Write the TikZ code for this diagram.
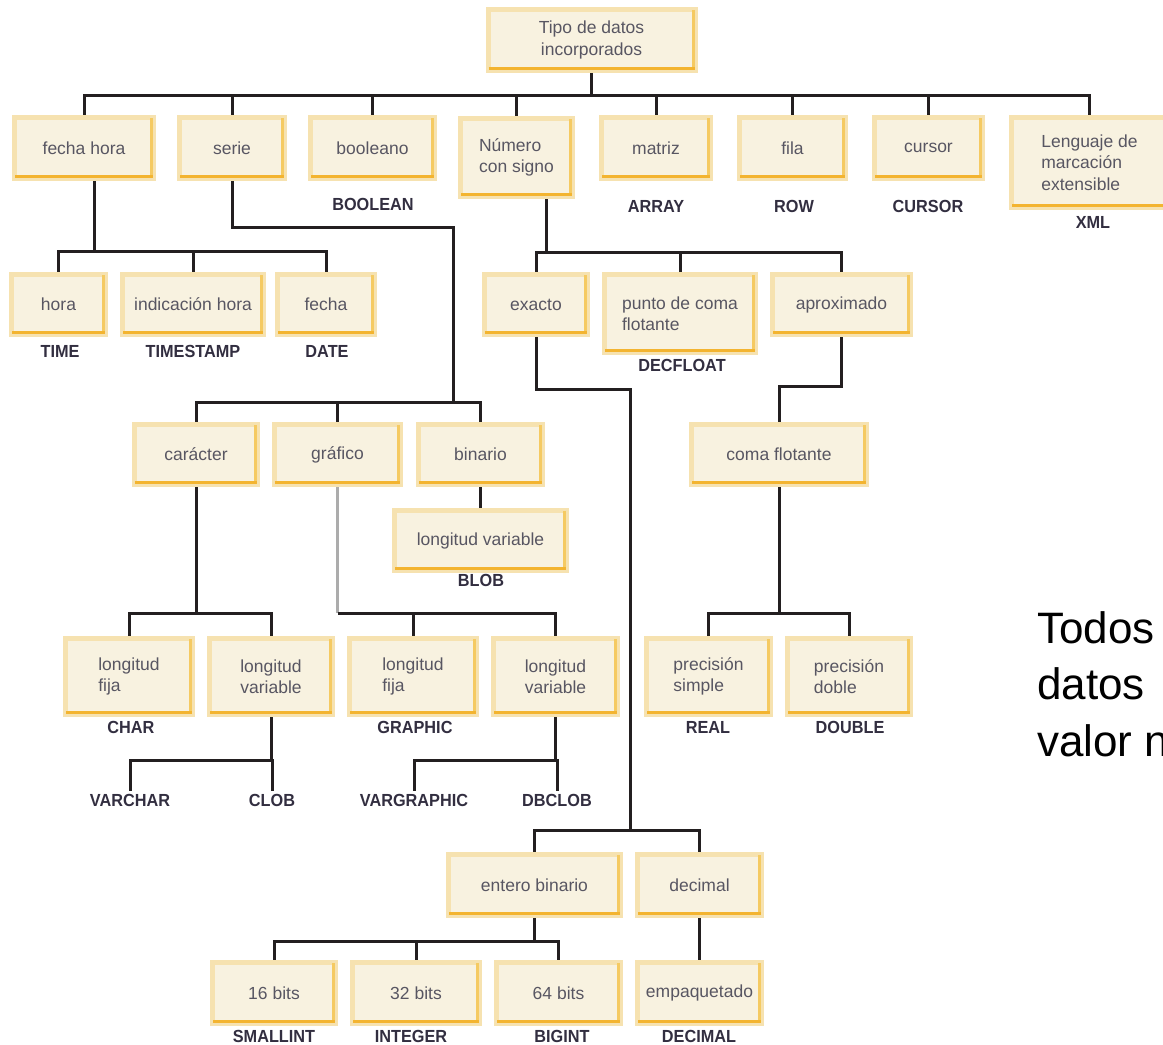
\documentclass[tikz,border=0pt]{standalone}
\usepackage{fontspec}
\setmainfont{Liberation Sans}
\newfontfamily\etiquetafont[FakeStretch=0.93]{Liberation Sans}
\usetikzlibrary{positioning}

\definecolor{fondocaja}{RGB}{248,242,224}
\definecolor{bordecaja}{RGB}{246,226,176}
\definecolor{naranja}{RGB}{243,180,48}
\definecolor{naranjaclaro}{RGB}{245,202,98}
\definecolor{textocaja}{RGB}{88,86,98}
\definecolor{textotipo}{RGB}{50,46,64}
\definecolor{linea}{RGB}{35,31,32}
\definecolor{lineagris}{RGB}{172,172,172}

\begin{document}
\begin{tikzpicture}[x=1pt,y=-1pt,
  caja/.style={draw=bordecaja,fill=fondocaja,line width=5pt,inner sep=2pt,minimum height=61pt,text=textocaja,font=\fontsize{17.5}{21.5}\selectfont},
  tipo/.style={text=textotipo,inner sep=3pt,font=\etiquetafont\bfseries\fontsize{17.5}{20}\selectfont},
  grande/.style={inner sep=0pt,font=\fontsize{44}{56}\selectfont},
  rama/.style={draw=linea,line width=3pt},
  gris/.style={draw=lineagris,line width=3pt},
  barra/.style={draw=naranja,line width=3pt},
  lado/.style={draw=naranjaclaro,line width=3pt}]

\useasboundingbox (0,0) rectangle (1163,1045);

\node[caja,minimum width=207pt,align=center] (tipos) at (591.5,40) {Tipo de datos\\incorporados};

\node[caja,minimum width=139pt] (fechahora) at (84,148) {fecha hora};
\node[caja,minimum width=105pt] (serie) at (232,148) {serie};
\node[caja,minimum width=124pt] (booleano) at (372.5,148) {booleano};
\node[caja,minimum width=112pt,minimum height=78pt,align=left] (numero) at (516.5,157.5) {Número\\con signo};
\node[caja,minimum width=109pt] (matriz) at (656,148) {matriz};
\node[caja,minimum width=106pt] (fila) at (792.5,148) {fila};
\node[caja,minimum width=108pt] (cursor) at (928.5,148) {cursor};
\node[caja,minimum width=156pt,minimum height=90pt,align=left] (xml) at (1089.5,162.5) {Lenguaje de\\marcación\\extensible};

\node[tipo] (boolean) at (373,204) {BOOLEAN};
\node[tipo] (array) at (656,206) {ARRAY};
\node[tipo] (row) at (794,206) {ROW};
\node[tipo] (cursorsql) at (928,206) {CURSOR};
\node[tipo] (xmlsql) at (1093,222) {XML};

\node[caja,minimum width=94pt,minimum height=60pt] (hora) at (58.5,304.5) {hora};
\node[caja,minimum width=141pt,minimum height=60pt] (indicacion) at (193,304.5) {indicación hora};
\node[caja,minimum width=97pt,minimum height=60pt] (fecha) at (326,304.5) {fecha};
\node[caja,minimum width=103pt,minimum height=60pt] (exacto) at (536,304.5) {exacto};
\node[caja,minimum width=151pt,minimum height=78pt,align=left] (punto) at (680,313.5) {punto de coma\\flotante};
\node[caja,minimum width=138pt,minimum height=60pt] (aproximado) at (841.5,304.5) {aproximado};

\node[tipo] (time) at (60,351) {TIME};
\node[tipo] (timestamp) at (193,351) {TIMESTAMP};
\node[tipo] (date) at (327,351) {DATE};
\node[tipo] (decfloat) at (682,365) {DECFLOAT};

\node[caja,minimum width=123pt,minimum height=60pt] (caracter) at (196,454.5) {carácter};
\node[caja,minimum width=126pt,minimum height=60pt] (grafico) at (337.5,454.5) {gráfico};
\node[caja,minimum width=124pt,minimum height=60pt] (binario) at (480.5,454.5) {binario};
\node[caja,minimum width=175pt,minimum height=60pt] (comaflot) at (779,454.5) {coma flotante};
\node[caja,minimum width=172pt,minimum height=60pt] (lvarb) at (480.5,540.5) {longitud variable};

\node[tipo] (blob) at (481,580) {BLOB};

\node[caja,minimum width=127pt,minimum height=76pt,align=left] (lfijac) at (129,676.5) {longitud\\fija};
\node[caja,minimum width=123pt,minimum height=76pt,align=left] (lvarc) at (271,676.5) {longitud\\variable};
\node[caja,minimum width=127pt,minimum height=76pt,align=left] (lfijag) at (413,676.5) {longitud\\fija};
\node[caja,minimum width=124pt,minimum height=76pt,align=left] (lvarg) at (555.5,676.5) {longitud\\variable};
\node[caja,minimum width=124pt,minimum height=76pt,align=left] (simple) at (708.5,676.5) {precisión\\simple};
\node[caja,minimum width=123pt,minimum height=76pt,align=left] (doble) at (849,676.5) {precisión\\doble};

\node[tipo] (char) at (131,727) {CHAR};
\node[tipo] (graphic) at (415,727) {GRAPHIC};
\node[tipo] (real) at (708,727) {REAL};
\node[tipo] (double) at (850,727) {DOUBLE};

\node[tipo] (varchar) at (130,800) {VARCHAR};
\node[tipo] (clob) at (272,800) {CLOB};
\node[tipo] (vargraphic) at (414,800) {VARGRAPHIC};
\node[tipo] (dbclob) at (557,800) {DBCLOB};

\node[caja,minimum width=172pt] (entero) at (534.5,885) {entero binario};
\node[caja,minimum width=124pt] (decimal) at (699.5,885) {decimal};

\node[caja,minimum width=123pt] (b16) at (274,993) {16 bits};
\node[caja,minimum width=127pt] (b32) at (416,993) {32 bits};
\node[caja,minimum width=124pt] (b64) at (558.5,993) {64 bits};
\node[caja,minimum width=124pt] (empaquetado) at (699.5,993) {empaquetado};

\node[tipo] (smallint) at (274,1036) {SMALLINT};
\node[tipo] (integer) at (411,1036) {INTEGER};
\node[tipo] (bigint) at (562,1036) {BIGINT};
\node[tipo] (decimalsql) at (699,1036) {DECIMAL};

\node[grande,anchor=base west] (todos) at (1037,643) {Todos};
\node[grande,anchor=base west] (datos) at (1037,699) {datos};
\node[grande,anchor=base west] (valor) at (1037,756) {valor n};

\foreach \n in {tipos,fechahora,serie,booleano,numero,matriz,fila,cursor,xml,hora,indicacion,fecha,exacto,punto,aproximado,caracter,grafico,binario,comaflot,lvarb,lfijac,lvarc,lfijag,lvarg,simple,doble,entero,decimal,b16,b32,b64,empaquetado}{
  \draw[lado] ([xshift=-4.5pt,yshift=-3pt]\n.north east) -- ([xshift=-4.5pt,yshift=3pt]\n.south east);
  \draw[barra] ([xshift=3pt,yshift=4.5pt]\n.south west) -- ([xshift=-3pt,yshift=4.5pt]\n.south east);
}

\coordinate (b0) at (591.5,95);
\coordinate (b2) at (94,251);
\coordinate (b3) at (546,252);
\coordinate (c4) at (453,227);
\coordinate (b4) at (453,402);
\coordinate (b6) at (196,613);
\coordinate (b7) at (337.5,613);
\coordinate (b8) at (271,760);
\coordinate (b9) at (555.5,760);
\coordinate (c1) at (630,389);
\coordinate (c2) at (630,830);
\coordinate (c3) at (779,386);
\coordinate (b10) at (779,613);
\coordinate (b11) at (534.5,941);

\draw[rama] (tipos) -- (b0);
\foreach \n in {fechahora,serie,booleano,numero,matriz,fila,cursor,xml}
  \draw[rama] (b0) -| (\n);

\draw[rama] (fechahora.south -| b2) -- (b2);
\foreach \n in {hora,indicacion,fecha}
  \draw[rama] (b2) -| (\n);

\draw[rama] (numero.south -| b3) -- (b3);
\foreach \n in {exacto,punto,aproximado}
  \draw[rama] (b3) -| (\n);

\draw[rama] (serie) |- (c4) -- (b4);
\foreach \n in {caracter,grafico,binario}
  \draw[rama] (b4) -| (\n);
\draw[rama] (binario) -- (lvarb);

\draw[rama] (caracter) -- (b6);
\foreach \n in {lfijac,lvarc}
  \draw[rama] (b6) -| (\n);

\draw[gris] (grafico) -- (b7);
\foreach \n in {lfijag,lvarg}
  \draw[rama] (b7) -| (\n);

\draw[rama] (lvarc) -- (b8);
\foreach \n in {varchar,clob}
  \draw[rama] (b8) -| (\n);
\draw[rama] (lvarg) -- (b9);
\foreach \n in {vargraphic,dbclob}
  \draw[rama] (b9) -| (\n);

\draw[rama] (aproximado) |- (c3) -- (comaflot);
\draw[rama] (comaflot) -- (b10);
\foreach \n in {simple,doble}
  \draw[rama] (b10) -| (\n);

\draw[rama] (exacto) |- (c1) -- (c2);
\foreach \n in {entero,decimal}
  \draw[rama] (c2) -| (\n);

\draw[rama] (entero) -- (b11);
\foreach \n in {b16,b32,b64}
  \draw[rama] (b11) -| (\n);
\draw[rama] (decimal) -- (empaquetado);

\end{tikzpicture}
\end{document}
